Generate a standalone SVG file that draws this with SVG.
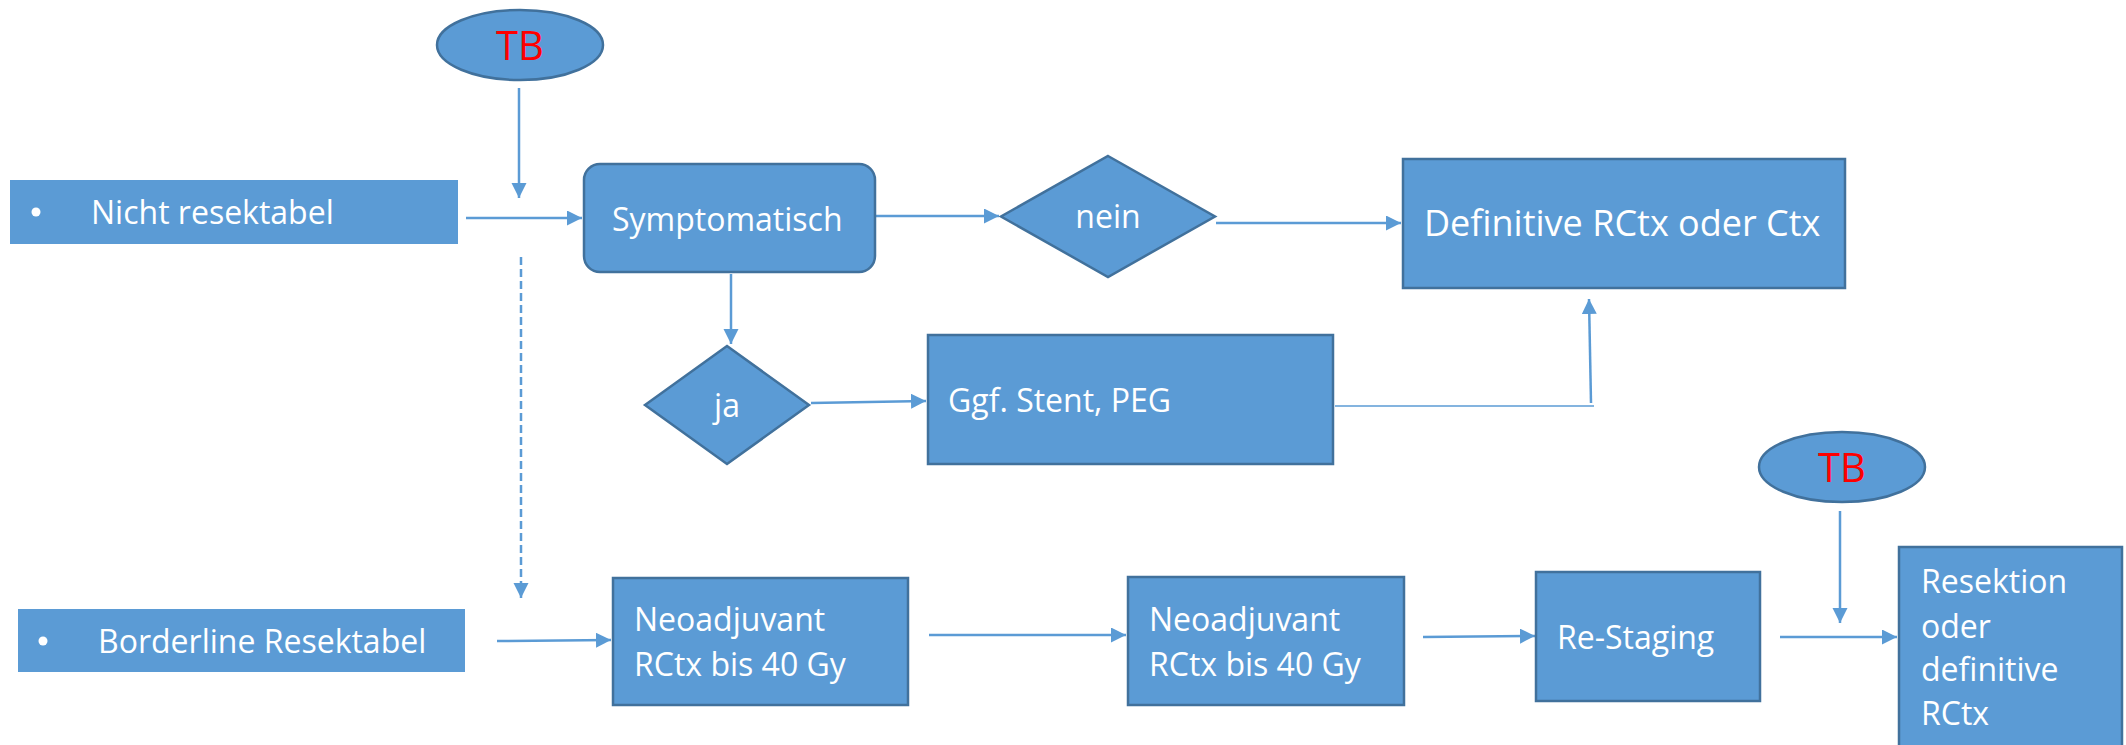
<svg xmlns="http://www.w3.org/2000/svg" width="2126" height="745" viewBox="0 0 2126 745">
<style>
.n{fill:#5b9bd5;stroke:#41719c;stroke-width:2.5}
.flat{fill:#5b9bd5;stroke:none}
.t{font-family:"Open Sans","Noto Sans","DejaVu Sans",sans-serif;font-size:32px;fill:#ffffff}
.tl{font-size:36px}
.tb{font-family:"Open Sans","Noto Sans","DejaVu Sans",sans-serif;font-size:40px;fill:#ff0000;text-anchor:middle}
.c{fill:none;stroke:#5b9bd5;stroke-width:2.5}
.thin{fill:none;stroke:#5b9bd5;stroke-width:1.5}
</style>
<defs>
<marker id="ah" markerUnits="userSpaceOnUse" markerWidth="16" markerHeight="16" refX="15" refY="7.5" orient="auto">
<path d="M0,0 L15,7.5 L0,15 z" fill="#5b9bd5"/>
</marker>
</defs>
<rect width="2126" height="745" fill="#ffffff"/>
<g id="connectors">
<line class="c" x1="519" y1="88" x2="519" y2="198" marker-end="url(#ah)"/>
<line class="c" x1="466" y1="218" x2="582" y2="218" marker-end="url(#ah)"/>
<line class="c" x1="876" y1="216" x2="999" y2="216" marker-end="url(#ah)"/>
<line class="c" x1="1216" y1="223" x2="1401" y2="223" marker-end="url(#ah)"/>
<line class="c" x1="731" y1="274" x2="731" y2="344" marker-end="url(#ah)"/>
<line class="c" x1="811" y1="403" x2="926" y2="401" marker-end="url(#ah)"/>
<line class="thin" x1="1335" y1="406" x2="1594" y2="406"/>
<line class="c" x1="1591" y1="403" x2="1589" y2="299" marker-end="url(#ah)"/>
<line class="c" x1="521" y1="257" x2="521" y2="598" stroke-dasharray="8 4" marker-end="url(#ah)"/>
<line class="c" x1="497" y1="641" x2="611" y2="640" marker-end="url(#ah)"/>
<line class="c" x1="929" y1="635" x2="1126" y2="635" marker-end="url(#ah)"/>
<line class="c" x1="1423" y1="637" x2="1535" y2="636" marker-end="url(#ah)"/>
<line class="c" x1="1840" y1="511" x2="1840" y2="623" marker-end="url(#ah)"/>
<line class="c" x1="1780" y1="637" x2="1897" y2="637" marker-end="url(#ah)"/>
</g>
<g id="tb1">
<ellipse class="n" cx="520" cy="45" rx="83" ry="35"/>
<text class="tb" x="520" y="60">TB</text>
</g>
<g id="nicht-resektabel">
<rect class="flat" x="10" y="180" width="448" height="64"/>
<circle cx="36" cy="212" r="4.5" fill="#ffffff"/>
<text class="t" x="91" y="224">Nicht resektabel</text>
</g>
<g id="symptomatisch">
<rect class="n" x="584" y="164" width="291" height="108" rx="16" ry="16"/>
<text class="t" x="612" y="231">Symptomatisch</text>
</g>
<g id="nein">
<polygon class="n" points="1108,156 1215,216.5 1108,277 1001,216.5"/>
<text class="t" x="1108" y="228" text-anchor="middle">nein</text>
</g>
<g id="definitive">
<rect class="n" x="1403" y="159" width="442" height="129"/>
<text class="t tl" x="1424" y="236">Definitive RCtx oder Ctx</text>
</g>
<g id="ja">
<polygon class="n" points="727,346 809,405 727,464 645,405"/>
<text class="t" x="727" y="417" text-anchor="middle">ja</text>
</g>
<g id="stent-peg">
<rect class="n" x="928" y="335" width="405" height="129"/>
<text class="t" x="948" y="412">Ggf. Stent, PEG</text>
</g>
<g id="borderline">
<rect class="flat" x="18" y="609" width="447" height="63"/>
<circle cx="43" cy="641" r="4.5" fill="#ffffff"/>
<text class="t" x="98" y="653">Borderline Resektabel</text>
</g>
<g id="neo1">
<rect class="n" x="613" y="578" width="295" height="127"/>
<text class="t" x="634" y="631">Neoadjuvant</text>
<text class="t" x="634" y="676">RCtx bis 40 Gy</text>
</g>
<g id="neo2">
<rect class="n" x="1128" y="577" width="276" height="128"/>
<text class="t" x="1149" y="631">Neoadjuvant</text>
<text class="t" x="1149" y="676">RCtx bis 40 Gy</text>
</g>
<g id="restaging">
<rect class="n" x="1536" y="572" width="224" height="129"/>
<text class="t" x="1557" y="649">Re-Staging</text>
</g>
<g id="tb2">
<ellipse class="n" cx="1842" cy="467" rx="83" ry="35"/>
<text class="tb" x="1842" y="482">TB</text>
</g>
<g id="resektion">
<rect class="n" x="1899" y="547" width="223" height="210"/>
<text class="t" x="1921" y="593">Resektion</text>
<text class="t" x="1921" y="638">oder</text>
<text class="t" x="1921" y="681">definitive</text>
<text class="t" x="1921" y="725">RCtx</text>
</g>
</svg>
